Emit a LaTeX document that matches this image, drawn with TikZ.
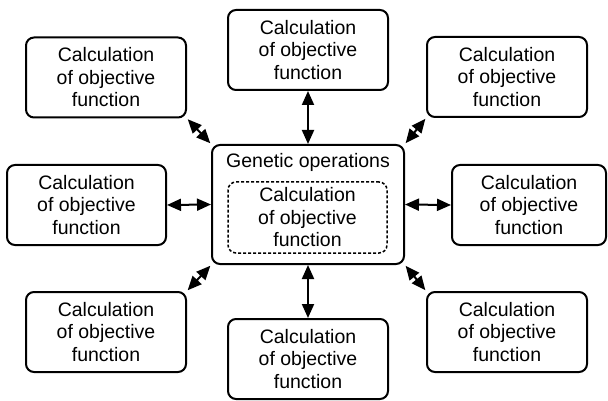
\documentclass[tikz,border=0pt]{standalone}
\usepackage{fontspec}
\setmainfont{Liberation Sans}
\usetikzlibrary{arrows.meta}
\begin{document}
\begin{tikzpicture}[x=1pt,y=1pt,
  calcbox/.style={draw, line width=2pt, rounded corners=8pt, inner sep=0pt,
    minimum width=160pt, minimum height=80pt, align=center,
    font=\fontsize{19.5}{22.5}\selectfont},
  link/.style={line width=2pt, {Triangle[length=14pt,width=12pt]}-{Triangle[length=14pt,width=12pt]}},
  diag/.style={link, shorten <=1pt, shorten >=1pt}]
\useasboundingbox (0,0) rectangle (608,-401);
% central box
\node[draw, line width=2pt, rounded corners=8pt, minimum width=192pt, minimum height=119pt] (c) at (308,-204.5) {};
\node[font=\fontsize{19.5}{22.5}\selectfont] (g) at (308,-162) {Genetic operations};
\node[draw, dash pattern=on 3pt off 2pt, line width=1.5pt, rounded corners=8pt, inner sep=0pt,
  minimum width=159pt, minimum height=71pt, align=center, font=\fontsize{19.5}{22.5}\selectfont]
  (in) at (307.5,-217.5) {Calculation\\of objective\\function};
% outer boxes
\node[calcbox] (tl) at (106,-77.5) {Calculation\\of objective\\function};
\node[calcbox] (t)  at (308,-50)   {Calculation\\of objective\\function};
\node[calcbox] (tr) at (507,-77)   {Calculation\\of objective\\function};
\node[calcbox, minimum width=159pt] (l)  at (86.5,-205) {Calculation\\of objective\\function};
\node[calcbox, minimum width=154pt] (r)  at (529,-205) {Calculation\\of objective\\function};
\node[calcbox] (bl) at (106,-332)  {Calculation\\of objective\\function};
\node[calcbox] (b)  at (308,-359)  {Calculation\\of objective\\function};
\node[calcbox] (br) at (507,-332)  {Calculation\\of objective\\function};
% connectors
\draw[link] (t.south) -- (c.north);
\draw[link] (c.south) -- (b.north);
\draw[link] (l.east) -- (c.west);
\draw[link] (c.east) -- (r.west);
\draw[diag] (tl.south east) -- (c.north west);
\draw[diag] (tr.south west) -- (c.north east);
\draw[diag] (bl.north east) -- (c.south west);
\draw[diag] (br.north west) -- (c.south east);
\end{tikzpicture}
\end{document}
